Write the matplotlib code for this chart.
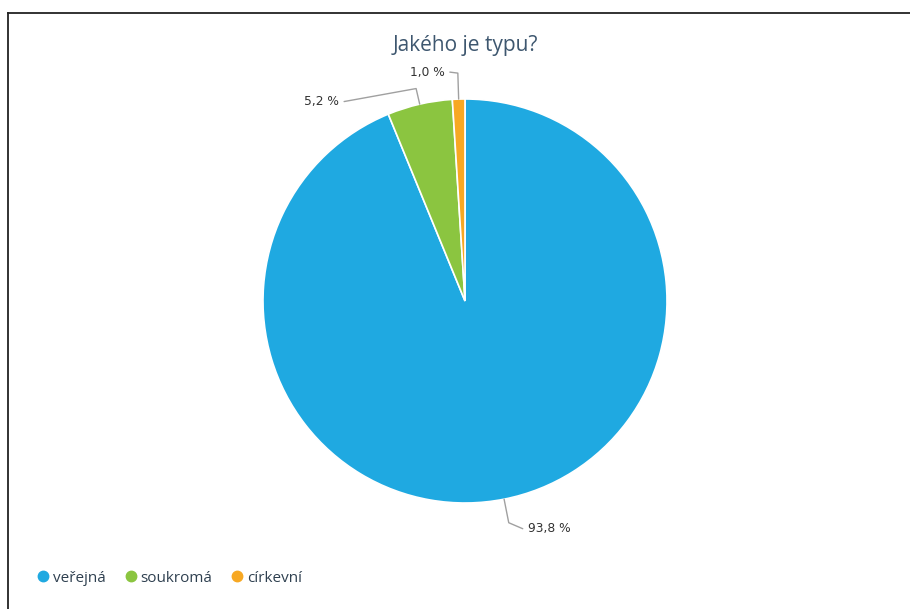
import numpy as np
import matplotlib.pyplot as plt
from matplotlib.lines import Line2D

# data
categories = ['veřejná', 'soukromá', 'církevní']
shares = [93.8, 5.2, 1.0]
colors = ['#1fa9e1', '#8bc540', '#f7a823']
title = 'Jakého je typu?'

W, H = 910, 609
cx, cy, R = 465, 301, 202  # pie centre and radius in pixels

fig = plt.figure(figsize=(W / 100, H / 100), dpi=100)
fig.patch.set_facecolor('white')

# axes over the whole figure, one data unit = pie radius
ax = fig.add_axes([0, 0, 1, 1])
wedges, _ = ax.pie(shares, colors=colors, startangle=90, counterclock=False,
                   radius=1.0, wedgeprops=dict(edgecolor='white', linewidth=1.2))
ax.set_xlim(-cx / R, (W - cx) / R)
ax.set_ylim(-(H - cy) / R, cy / R)
ax.set_aspect('equal')
ax.axis('off')

# data labels with bent connectors
px = 1.0 / R
label_setup = [
    # (elbow length px, horizontal run px, vertical shift px, side)
    (24, 14, 6, +1),
    (16, -72, 13, -1),
    (26, -8, -1, -1),
]
for w, val, (elb, run, dy, side) in zip(wedges, shares, label_setup):
    ang = np.deg2rad((w.theta1 + w.theta2) / 2)
    d = np.array([np.cos(ang), np.sin(ang)])
    p0 = d * 1.0
    p1 = d * (1.0 + elb * px)
    p2 = p1 + np.array([run * px, -dy * px])
    ax.plot([p0[0], p1[0], p2[0]], [p0[1], p1[1], p2[1]], color='#a0a0a0',
            lw=1.0, solid_joinstyle='round', solid_capstyle='round', zorder=1)
    txt = f'{val:.1f} %'.replace('.', ',')
    ax.text(p2[0] + side * 5 * px, p2[1], txt, ha='left' if side > 0 else 'right',
            va='center', fontsize=8.8, family='DejaVu Sans', color='#333333')

fig.text(cx / W, 1 - 45 / H, title, ha='center', va='center', fontsize=15,
         family=['Open Sans', 'DejaVu Sans'], color='#3e576f')

handles = [Line2D([], [], marker='o', ls='', markersize=7.5, color=c) for c in colors]
leg = fig.legend(handles, categories, loc='center left', bbox_to_anchor=(22 / W, 1 - 578 / H),
                 ncol=3, frameon=False, handletextpad=0.15, columnspacing=1.1,
                 handlelength=1.0, borderpad=0.4,
                 prop=dict(family=['Open Sans', 'DejaVu Sans'], size=11))
for t in leg.get_texts():
    t.set_color('#2f4050')

# frame on the top and left edges
fig.add_artist(Line2D([7.5 / W, 7.5 / W], [0, 1 - 12.5 / H], color='#222222', lw=1.3))
fig.add_artist(Line2D([7.5 / W, 1], [1 - 12.5 / H, 1 - 12.5 / H], color='#222222', lw=1.3))

fig.savefig('out.png', dpi=100, facecolor='white')
